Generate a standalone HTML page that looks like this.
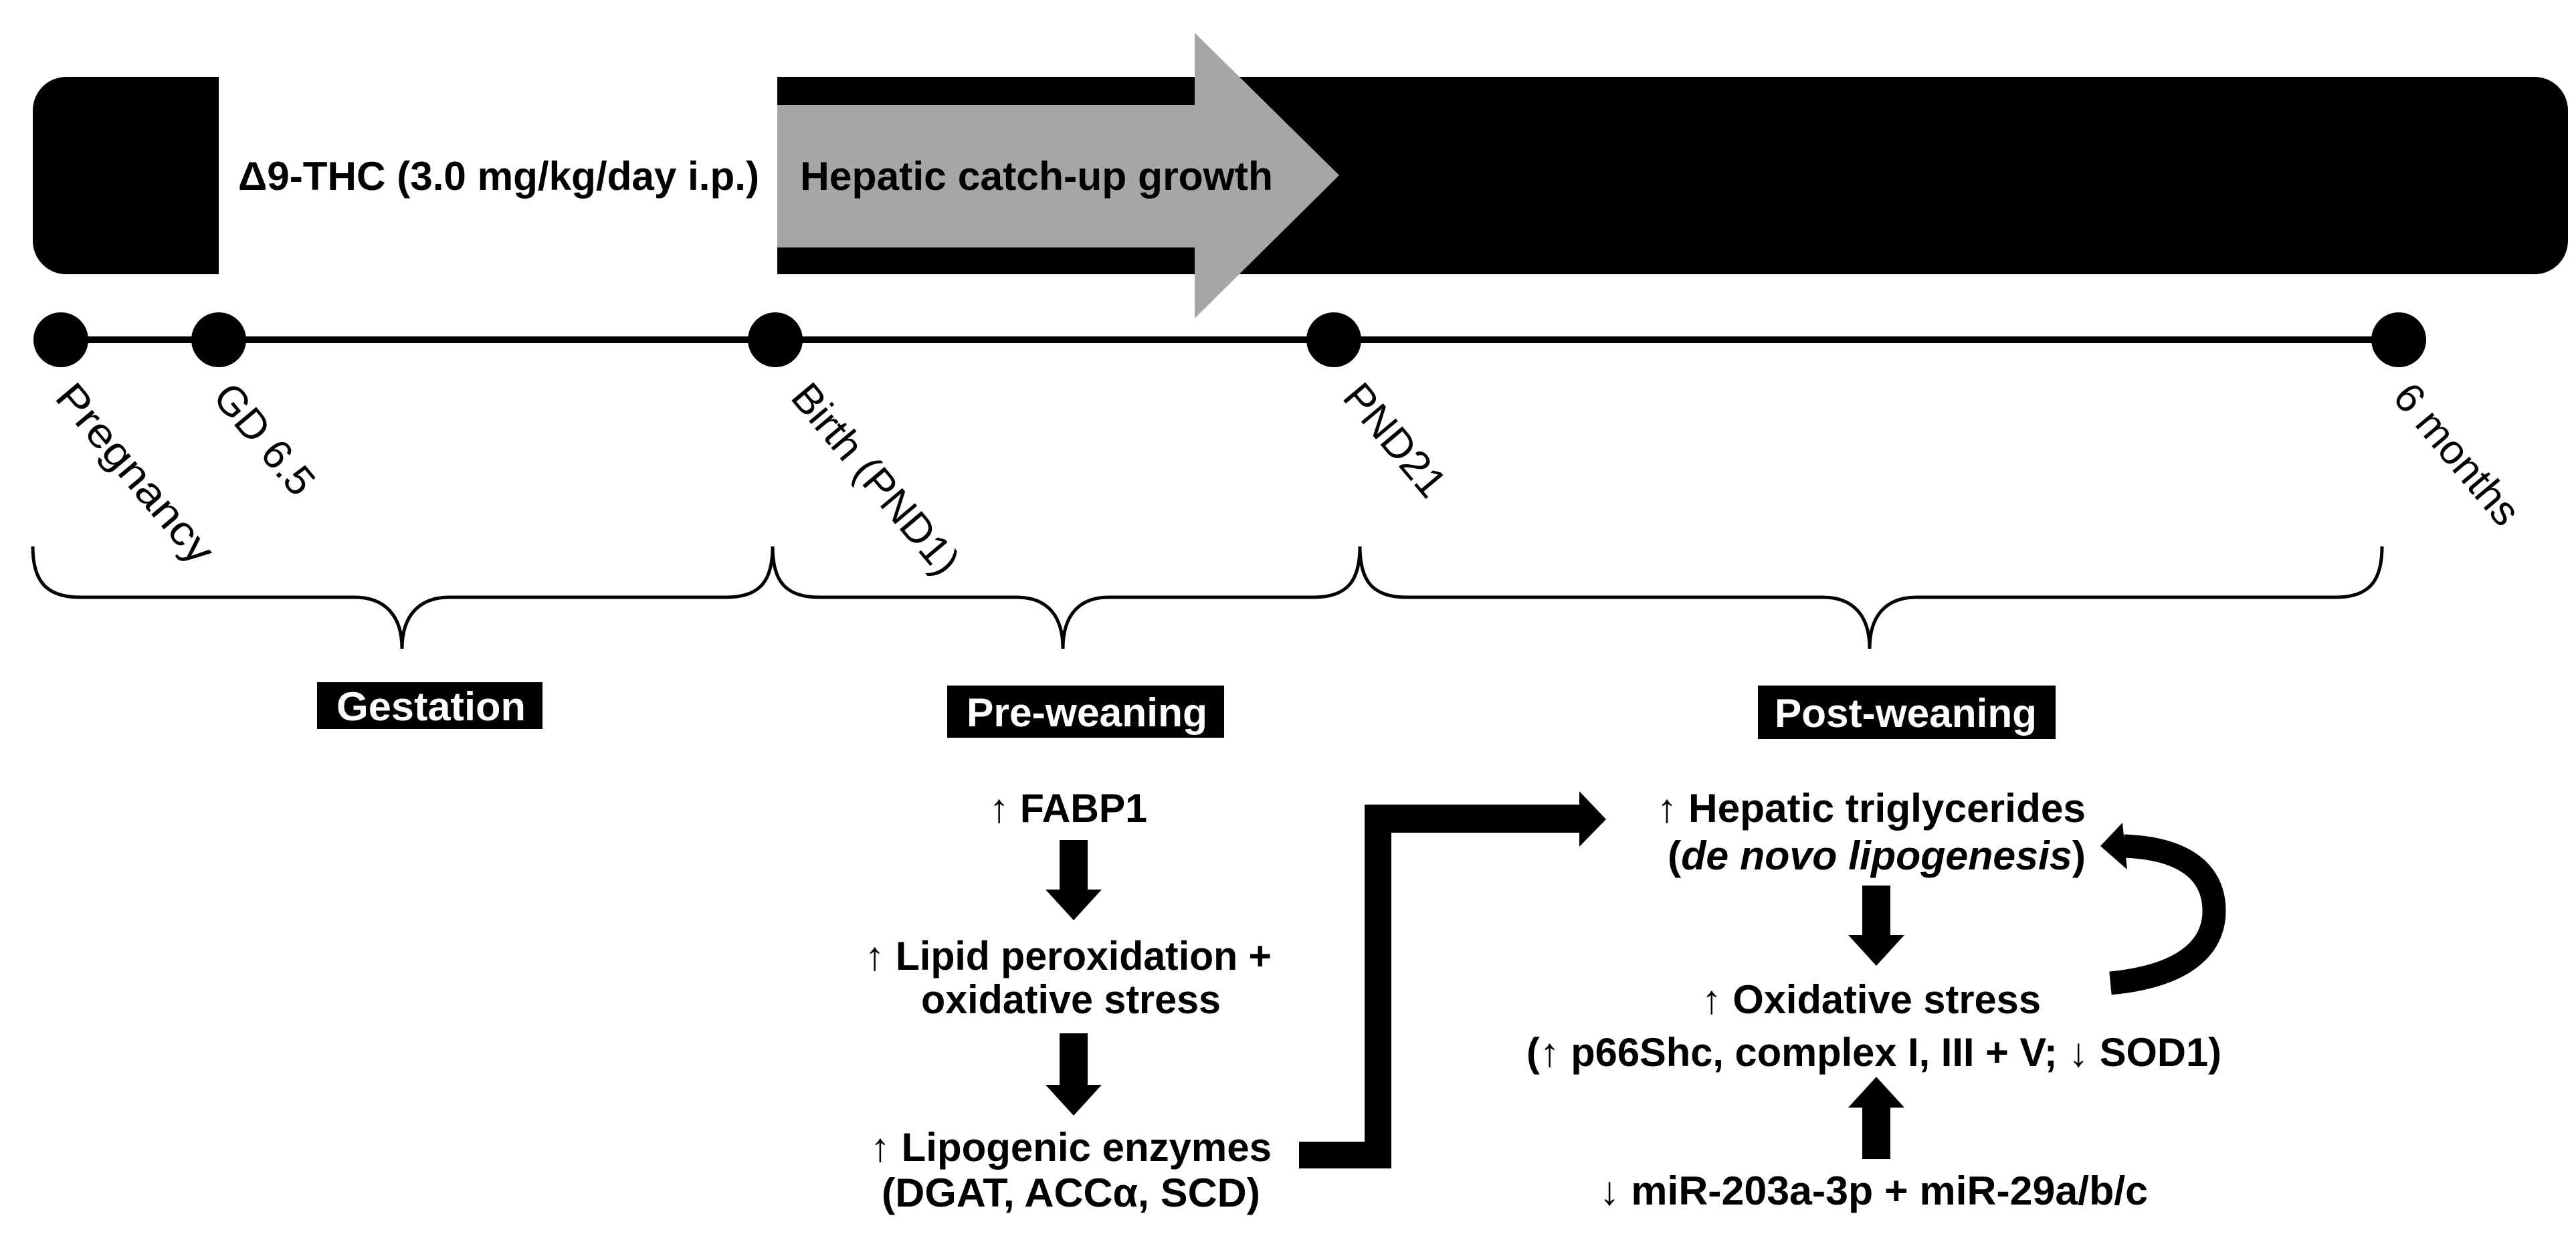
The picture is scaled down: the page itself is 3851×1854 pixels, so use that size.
<!DOCTYPE html>
<html><head><meta charset="utf-8"><style>
html,body{margin:0;padding:0;background:#fff;width:3851px;height:1854px;overflow:hidden}
svg{display:block}
text{font-family:"Liberation Sans",Arial,sans-serif}
.b{font-weight:bold;font-size:60px}
</style></head><body>
<svg width="3851" height="1854" viewBox="0 0 3851 1854" xmlns="http://www.w3.org/2000/svg">
<rect x="49" y="115" width="3790" height="295" rx="50" ry="50" fill="#000"/>
<rect x="327" y="115" width="835" height="295" fill="#fff"/>
<polygon points="1162,157 1786,157 1786,49 2002,262 1786,476 1786,370 1162,370" fill="#a6a6a6"/>
<text class="b" x="356" y="284" textLength="779" lengthAdjust="spacingAndGlyphs">Δ9-THC (3.0 mg/kg/day i.p.)</text>
<text class="b" x="1196" y="284" textLength="707" lengthAdjust="spacingAndGlyphs">Hepatic catch-up growth</text>
<line x1="91" y1="508" x2="3586" y2="508" stroke="#000" stroke-width="10"/>
<circle cx="91" cy="508" r="41"/><circle cx="327" cy="508" r="41"/><circle cx="1159" cy="508" r="41"/><circle cx="1994" cy="508" r="41"/><circle cx="3586" cy="508" r="41"/>
<g font-size="62">
<text transform="translate(80,595) rotate(50)" textLength="330" lengthAdjust="spacingAndGlyphs">Pregnancy</text>
<text transform="translate(316,595) rotate(50)">GD 6.5</text>
<text transform="translate(1180,595) rotate(50)">Birth (PND1)</text>
<text transform="translate(2005,595) rotate(50)">PND21</text>
<text transform="translate(3575,595) rotate(50)">6 months</text>
</g>
<g fill="none" stroke="#000" stroke-width="5">
<path d="M49,817 C49,870 70,893 120,893 L530,893 C575,893 601,920 601,970 C601,920 627,893 672,893 L1085,893 C1135,893 1155,870 1155,817"/>
<path d="M1155,817 C1155,870 1175,893 1225,893 L1520,893 C1565,893 1589,920 1589,970 C1589,920 1613,893 1658,893 L1963,893 C2013,893 2033,870 2033,817"/>
<path d="M2033,817 C2033,870 2053,893 2103,893 L2725,893 C2770,893 2795,920 2795,970 C2795,920 2820,893 2865,893 L3491,893 C3541,893 3561,870 3561,817"/>
</g>
<rect x="474" y="1020" width="337" height="70" fill="#000"/>
<text class="b" x="503" y="1077" fill="#fff" textLength="283" lengthAdjust="spacingAndGlyphs">Gestation</text>
<rect x="1416" y="1025" width="414" height="78" fill="#000"/>
<text class="b" x="1445" y="1086" fill="#fff" textLength="360" lengthAdjust="spacingAndGlyphs">Pre-weaning</text>
<rect x="2628" y="1025" width="445" height="80" fill="#000"/>
<text class="b" x="2653" y="1087" fill="#fff" textLength="392" lengthAdjust="spacingAndGlyphs">Post-weaning</text>
<text class="b" x="1479" y="1229" textLength="236" lengthAdjust="spacingAndGlyphs">↑ FABP1</text>
<text class="b" x="1293" y="1450" textLength="608" lengthAdjust="spacingAndGlyphs">↑ Lipid peroxidation +</text>
<text class="b" x="1377" y="1515" textLength="448" lengthAdjust="spacingAndGlyphs">oxidative stress</text>
<text class="b" x="1301" y="1736" textLength="600" lengthAdjust="spacingAndGlyphs">↑ Lipogenic enzymes</text>
<text class="b" x="1318" y="1804" textLength="566" lengthAdjust="spacingAndGlyphs">(DGAT, ACCα, SCD)</text>
<polygon points="1584,1256 1626,1256 1626,1330 1647,1330 1605,1376 1563,1330 1584,1330"/>
<polygon points="1584,1545 1626,1545 1626,1622 1647,1622 1605,1668 1563,1622 1584,1622"/>
<polygon points="1942,1707 2040,1707 2040,1203 2361,1203 2361,1183 2401,1225 2361,1266 2361,1245 2080,1245 2080,1747 1942,1747"/>
<text class="b" x="2477" y="1229" textLength="641" lengthAdjust="spacingAndGlyphs">↑ Hepatic triglycerides</text>
<text class="b" x="2493" y="1300" textLength="625" lengthAdjust="spacingAndGlyphs">(<tspan font-style="italic">de novo lipogenesis</tspan>)</text>
<polygon points="2784,1324 2826,1324 2826,1398 2847,1398 2805,1444 2763,1398 2784,1398"/>
<text class="b" x="2544" y="1515" textLength="507" lengthAdjust="spacingAndGlyphs">↑ Oxidative stress</text>
<text class="b" x="2282" y="1594" textLength="1039" lengthAdjust="spacingAndGlyphs">(↑ p66Shc, complex I, III + V; ↓ SOD1)</text>
<polygon points="2784,1733 2826,1733 2826,1656 2847,1656 2805,1610 2763,1656 2784,1656"/>
<text class="b" x="2391" y="1801" textLength="820" lengthAdjust="spacingAndGlyphs">↓ miR-203a-3p + miR-29a/b/c</text>
<path d="M3155,1470 C3260,1460 3310,1420 3310,1362 C3310,1300 3260,1268 3175,1265" fill="none" stroke="#000" stroke-width="35"/>
<polygon points="3140,1265 3173,1230 3180,1300"/>
</svg>
</body></html>
